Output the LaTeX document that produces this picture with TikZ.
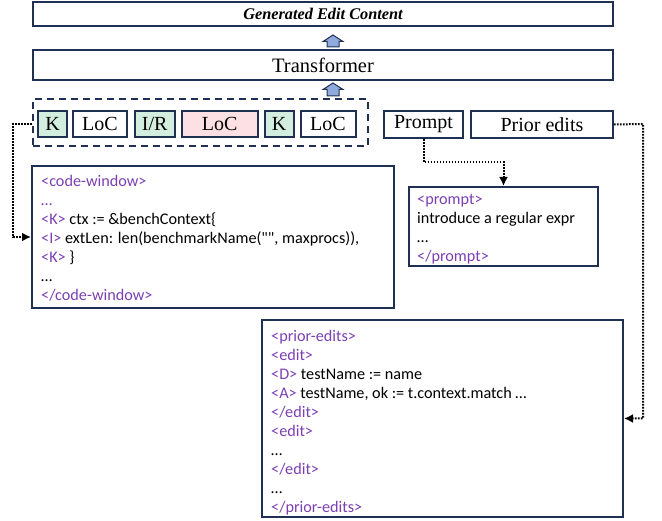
\documentclass[tikz,border=0pt]{standalone}
\usepackage{fontspec}
\setmainfont{Liberation Serif}
\newfontfamily\codefont{Carlito}
\usetikzlibrary{arrows.meta}
\definecolor{navy}{HTML}{1F3052}
\definecolor{tagc}{HTML}{7B3FB2}
\definecolor{kgreen}{HTML}{D3EEDE}
\definecolor{lpink}{HTML}{FCE0E3}
\definecolor{ablue}{HTML}{8FAADC}
\newcommand{\tg}[1]{\textcolor{tagc}{#1}}
\tikzset{
  box/.style={draw=navy, line width=2pt, inner sep=0pt},
  tok/.style={box, minimum height=26pt, font=\fontsize{20}{22}\selectfont},
  conn/.style={draw=black, line width=2pt, dash pattern=on 1.6pt off 1.4pt},
  tip/.style={-{Latex[length=9pt,width=9pt]}},
  codetext/.style={anchor=north west, inner sep=0pt, align=left,
    font=\codefont\fontsize{16.2}{18.9}\selectfont},
  uparrow/.style={draw=navy, line width=1pt, fill=ablue}
}
\begin{document}
\begin{tikzpicture}[x=1pt,y=-1pt]
\useasboundingbox (0,0) rectangle (662,521);
% top boxes
\node[box, minimum width=580pt, minimum height=24pt, font=\fontsize{16.3}{18}\selectfont\bfseries\itshape] (gen) at (323,14) {Generated Edit Content};
\node[box, minimum width=580pt, minimum height=30pt, font=\fontsize{20.5}{22}\selectfont] (tr) at (323,65) {Transformer};
% block arrows
\draw[uparrow] (333,35) -- (343,41.5) -- (339,41.5) -- (339,47) -- (327,47) -- (327,41.5) -- (323,41.5) -- cycle;
\draw[uparrow] (333,83) -- (343,89.5) -- (339,89.5) -- (339,96) -- (327,96) -- (327,89.5) -- (323,89.5) -- cycle;
% dashed group
\node[draw=navy, line width=2pt, dash pattern=on 7pt off 5pt, minimum width=335pt, minimum height=47pt, inner sep=0pt] (grp) at (200.5,122.5) {};
\node[tok, fill=kgreen, minimum width=29pt] (k1) at (52.5,124) {K};
\node[tok, minimum width=54pt] (l1) at (100,124) {LoC};
\node[tok, fill=kgreen, minimum width=39.5pt] (ir) at (154.75,124) {I/R};
\node[tok, fill=lpink, minimum width=76pt] (l2) at (219.75,124) {LoC};
\node[tok, fill=kgreen, minimum width=29pt] (k2) at (279,124) {K};
\node[tok, minimum width=55pt] (l3) at (328,124) {LoC};
\node[tok, minimum width=79pt, minimum height=27pt] (prompt) at (423.5,124.5) {Prompt};
\node[tok, minimum width=142pt, minimum height=27pt] (prior) at (542,124.5) {Prior edits};
% content boxes
\node[box, minimum width=362pt, minimum height=142pt] (code) at (213,237) {};
\node[box, minimum width=189pt, minimum height=79pt] (pbox) at (503.5,226.5) {};
\node[box, minimum width=361pt, minimum height=197pt] (pebox) at (442.5,418.5) {};
% texts
\node[codetext] (codetxt) at (41,175.5) {\tg{<code-window>}\\
\tg{…}\\
\tg{<K>} ctx := \&benchContext\{\\
\tg{<I>} extLen: len(benchmarkName("", maxprocs)),\\
\tg{<K>} \}\\
…\\
\tg{</code-window>}};
\node[codetext] (ptxt) at (417,194.5) {\tg{<prompt>}\\
introduce a regular expr\\
…\\
\tg{</prompt>}};
\node[codetext] (petxt) at (271,330.5) {\tg{<prior-edits>}\\
\tg{<edit>}\\
\tg{<D>} testName := name\\
\tg{<A>} testName, ok := t.context.match …\\
\tg{</edit>}\\
\tg{<edit>}\\
…\\
\tg{</edit>}\\
…\\
\tg{</prior-edits>}};
% connectors
\coordinate (gl) at (grp.west |- k1.center);
\coordinate (lbend) at (13,124);
\draw[conn, tip] (gl) -- (lbend) |- (code.west);
\coordinate (pbend) at (pbox.north |- 0,162);
\draw[conn, tip] (prompt.south) |- (pbend) -- (pbox.north);
\coordinate (rbend) at (643,124);
\draw[conn, tip] (prior.east) -- (rbend) |- (pebox.east);
\end{tikzpicture}
\end{document}
